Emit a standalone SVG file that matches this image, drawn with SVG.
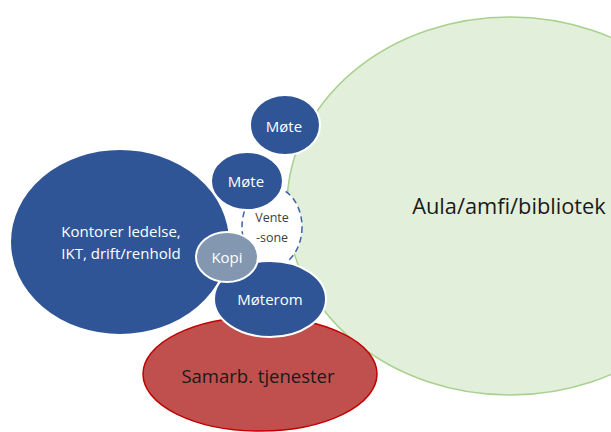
<svg xmlns="http://www.w3.org/2000/svg" width="611" height="432" viewBox="0 0 611 432">
  <style>
    text { font-family: "Open Sans", "Liberation Sans", sans-serif; text-anchor: middle; }
    .room { fill: #2F5597; stroke: #FFFFFF; stroke-width: 2; }
    .lbl-w { fill: #FFFFFF; font-size: 15px; }
    .lbl-d { fill: #1A1A1A; }
  </style>
  <rect width="611" height="432" fill="#FFFFFF"/>
  <g id="aula">
    <ellipse cx="510" cy="206" rx="223" ry="189" fill="#E2EFDA" stroke="#A9D18E" stroke-width="1.5"/>
    <text class="lbl-d" x="509" y="214" font-size="21.8">Aula/amfi/bibliotek</text>
  </g>
  <g id="samarb">
    <ellipse cx="260" cy="374" rx="117" ry="57" fill="#C0504D" stroke="#C00000" stroke-width="1.5"/>
    <text class="lbl-d" x="258" y="383" font-size="18.5">Samarb. tjenester</text>
  </g>
  <g id="ventesone">
    <ellipse cx="272" cy="227" rx="30" ry="40" fill="#FFFFFF" stroke="#3A63A8" stroke-width="1.5" stroke-dasharray="6 4"/>
    <text x="272" y="222" font-size="12.5" fill="#404040">Vente</text>
    <text x="272" y="242" font-size="12.5" fill="#404040">-sone</text>
  </g>
  <g id="kontorer">
    <ellipse class="room" cx="120" cy="242" rx="110" ry="93"/>
    <text class="lbl-w" x="121" y="237" font-size="17">Kontorer ledelse,</text>
    <text class="lbl-w" x="121" y="259" font-size="17">IKT, drift/renhold</text>
  </g>
  <g id="moterom">
    <ellipse class="room" cx="270" cy="299" rx="56" ry="38"/>
    <text class="lbl-w" x="270" y="305" font-size="15.5">Møterom</text>
  </g>
  <g id="kopi">
    <ellipse cx="227" cy="257" rx="31" ry="25" fill="#8497B0" stroke="#FFFFFF" stroke-width="2"/>
    <text class="lbl-w" x="227" y="263" font-size="14">Kopi</text>
  </g>
  <g id="mote-2">
    <ellipse class="room" cx="247" cy="181" rx="36" ry="29"/>
    <text class="lbl-w" x="246" y="187">Møte</text>
  </g>
  <g id="mote-1">
    <ellipse class="room" cx="285" cy="125" rx="35" ry="30"/>
    <text class="lbl-w" x="284" y="132">Møte</text>
  </g>
  <g id="connectors"/>
</svg>
